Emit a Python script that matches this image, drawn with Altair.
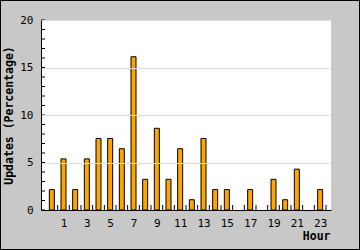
import altair as alt
import pandas as pd

hours = list(range(24))
updates = [2.15, 5.38, 2.15, 5.38, 7.53, 7.53, 6.45, 16.13, 3.23, 8.60, 3.23, 6.45,
           1.08, 7.53, 2.15, 2.15, 0.0, 2.15, 0.0, 3.23, 1.08, 4.30, 0.0, 2.15]
y_major = [0, 5, 10, 15, 20]
y_minor = list(range(21))
x_labels = [1, 3, 5, 7, 9, 11, 13, 15, 17, 19, 21, 23]
x_bounds = [h + 0.5 for h in hours]

df = pd.DataFrame({"hour": hours, "updates": updates})
df_minor = pd.DataFrame({"v": y_minor})
df_bounds = pd.DataFrame({"b": x_bounds})
df_frame = pd.DataFrame({"a": [0]})

FONT = "DejaVu Sans Mono"
xs = alt.Scale(domain=[-0.5, 23.5], nice=False, zero=False)
ys = alt.Scale(domain=[0, 20], nice=False)

x_axis = alt.Axis(
    values=x_labels, title="Hour", tickSize=0, labelPadding=7, grid=False,
    labelOverlap=False, labelFlush=False,
    domainColor="black", domainWidth=1, zindex=1,
    titleX=289, titleY=26, titleAlign="right", titleBaseline="middle",
    titleFont=FONT, titleFontSize=11.5, titleFontWeight="bold", titleColor="black",
    labelFont=FONT, labelFontSize=11, labelColor="black")
y_axis = alt.Axis(
    values=y_major, title="Updates (Percentage)", tickSize=0, labelPadding=8,
    grid=True, gridColor="#DCDCDC", gridWidth=1,
    labelOverlap=False, labelFlush=False,
    domainColor="black", domainWidth=1, zindex=1,
    titleX=-32, titleY=95, titleAngle=270, titleAlign="center", titleBaseline="middle",
    titleFont=FONT, titleFontSize=11.5, titleFontWeight="bold", titleColor="black",
    labelFont=FONT, labelFontSize=11, labelColor="black")

bars = alt.Chart(df).transform_filter("datum.updates > 0").mark_bar(
    size=5, fill="#FFA500", stroke="black", strokeWidth=1
).encode(
    x=alt.X("hour:Q", scale=xs, axis=x_axis),
    y=alt.Y("updates:Q", scale=ys, axis=y_axis),
)

minor = alt.Chart(df_minor).mark_rule(color="black", strokeWidth=1).encode(
    y=alt.Y("v:Q", scale=ys, axis=y_axis),
    x=alt.value(0), x2=alt.value(4),
)

xticks = alt.Chart(df_bounds).mark_rule(color="black", strokeWidth=1).encode(
    x=alt.X("b:Q", scale=xs, axis=x_axis),
    y=alt.value(190), y2=alt.value(185),
)

frame = alt.Chart(df_frame).mark_rect(fill=None, stroke="black", strokeWidth=1, clip=False).encode(
    x=alt.value(-40.5), x2=alt.value(318.5), y=alt.value(-19.5), y2=alt.value(229.5)
)

chart = alt.layer(bars, minor, xticks, frame).properties(
    width=290, height=190,
    autosize=alt.AutoSizeParams(type="none"),
    padding={"left": 41, "top": 20, "right": 29, "bottom": 40},
    background="#C8C8C8",
).configure_view(fill="white", stroke=None).configure_axis(labelOverlap=False)

chart.save("out.html", embed_options={"renderer": "svg", "actions": False})
